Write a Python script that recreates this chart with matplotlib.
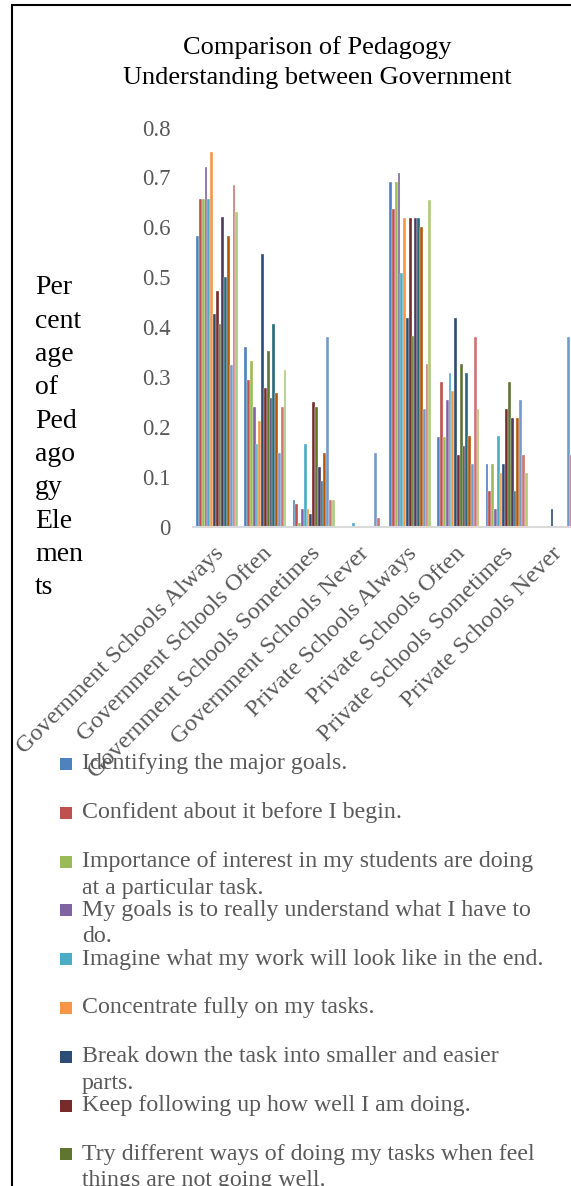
import matplotlib
matplotlib.use("Agg")
import matplotlib.pyplot as plt
import matplotlib.transforms as mtransforms
from matplotlib.patches import Rectangle
import numpy as np

plt.rcParams['font.family'] = ['Liberation Serif', 'DejaVu Serif']

categories = ["Government Schools Always", "Government Schools Often",
              "Government Schools Sometimes", "Government Schools Never",
              "Private Schools Always", "Private Schools Often",
              "Private Schools Sometimes", "Private Schools Never"]

# one list per series, values for the 8 categories above
identifying = [0.583, 0.361, 0.055, 0.0, 0.691, 0.181, 0.127, 0.0]
confident = [0.656, 0.295, 0.046, 0.0, 0.636, 0.290, 0.073, 0.0]
importance = [0.656, 0.333, 0.009, 0.0, 0.691, 0.181, 0.127, 0.0]
my_goals = [0.721, 0.240, 0.037, 0.0, 0.709, 0.254, 0.036, 0.0]
imagine = [0.656, 0.166, 0.166, 0.009, 0.509, 0.309, 0.182, 0.0]
concentrate = [0.750, 0.212, 0.037, 0.0, 0.618, 0.272, 0.109, 0.0]
break_down = [0.426, 0.546, 0.027, 0.0, 0.418, 0.418, 0.127, 0.036]
keep_following = [0.472, 0.278, 0.250, 0.0, 0.618, 0.145, 0.236, 0.0]
try_different = [0.407, 0.352, 0.241, 0.0, 0.382, 0.327, 0.291, 0.0]
series10 = [0.620, 0.259, 0.120, 0.0, 0.618, 0.163, 0.218, 0.0]
series11 = [0.500, 0.407, 0.092, 0.0, 0.618, 0.309, 0.073, 0.0]
series12 = [0.583, 0.268, 0.148, 0.0, 0.600, 0.182, 0.218, 0.0]
series13 = [0.324, 0.148, 0.380, 0.148, 0.236, 0.127, 0.254, 0.380]
series14 = [0.685, 0.240, 0.055, 0.018, 0.327, 0.381, 0.145, 0.145]
series15 = [0.630, 0.315, 0.055, 0.0, 0.655, 0.236, 0.109, 0.0]

series = [identifying, confident, importance, my_goals, imagine, concentrate,
          break_down, keep_following, try_different, series10, series11,
          series12, series13, series14, series15]

legend_labels = ["Identifying the major goals.",
                 "Confident about it before I begin.",
                 "Importance of interest in my students are doing\nat a particular task.",
                 "My goals is to really understand what I have to\ndo.",
                 "Imagine what my work will look like in the end.",
                 "Concentrate fully on my tasks.",
                 "Break down the task into smaller and easier\nparts.",
                 "Keep following up how well I am doing.",
                 "Try different ways of doing my tasks when feel\nthings are not going well."]

colors = ["#4F81BD", "#C0504D", "#9BBB59", "#8064A2", "#4BACC6", "#F79646",
          "#2C4D75", "#772C2A", "#5F7530", "#4D3B62", "#276A7C", "#B65708",
          "#729ACA", "#CD7371", "#AFC97A"]

W, H = 571, 1186
fig = plt.figure(figsize=(W / 100, H / 100), dpi=100)

# chart border (right and bottom fall outside the picture)
fig.patches.append(Rectangle((12 / W, -0.2), 1.2, 1 - 5 / H + 0.2,
                             transform=fig.transFigure, fill=False,
                             edgecolor='black', linewidth=1.5))

ax = fig.add_axes([193 / W, 1 - 527 / H, 386 / W, 399.5 / H])

n = len(series)
slot = 0.87 / n
x = np.arange(len(categories))
for j, vals in enumerate(series):
    ax.bar(x - 0.435 + slot * (j + 0.5), vals, width=slot, color=colors[j],
           edgecolor='white', linewidth=0.25)

ax.set_xlim(-0.5, len(categories) - 0.5)
ax.set_ylim(0, 0.8)
ax.set_yticks(np.arange(0, 0.81, 0.1))
ax.set_yticklabels(["0"] + ["%.1f" % v for v in np.arange(0.1, 0.81, 0.1)])
for s in ['top', 'right', 'left']:
    ax.spines[s].set_visible(False)
ax.spines['bottom'].set_color('#D9D9D9')
ax.spines['bottom'].set_linewidth(1.5)
ax.tick_params(axis='y', length=0, pad=16, labelsize=16.5, labelcolor='#595959')
ax.tick_params(axis='x', length=0, pad=0)
ax.set_xticks(x)
ax.set_xticklabels(categories, rotation=45, ha='right', va='center',
                   rotation_mode='anchor', fontsize=17.5, color='#595959')
offset = mtransforms.ScaledTranslation(0.04, -0.23, fig.dpi_scale_trans)
for lab in ax.get_xticklabels():
    lab.set_transform(lab.get_transform() + offset)

# title
fig.text(317 / W, 1 - 48 / H, "Comparison of Pedagogy", ha='center',
         va='center', fontsize=19)
fig.text(317 / W, 1 - 78 / H, "Understanding between Government",
         ha='center', va='center', fontsize=19)

# y axis title, wrapped in a narrow column
ylabel_parts = ["Per", "cent", "age", "of", "Ped", "ago", "gy", "Ele", "men", "ts"]
for i, part in enumerate(ylabel_parts):
    fig.text(35 / W, 1 - (288 + 33.3 * i) / H, part, ha='left', va='center',
             fontsize=20)

# legend
for i, lab in enumerate(legend_labels):
    yc = 764 + 48.8 * i
    fig.patches.append(Rectangle((60 / W, 1 - (yc + 6) / H), 12 / W, 12 / H,
                                 transform=fig.transFigure,
                                 facecolor=colors[i], edgecolor='none'))
    for k, line in enumerate(lab.split("\n")):
        fig.text(82 / W, 1 - (yc + 26.5 * k) / H, line, ha='left',
                 va='center', fontsize=17.2, color='#595959')

fig.savefig("out.png", dpi=100)
